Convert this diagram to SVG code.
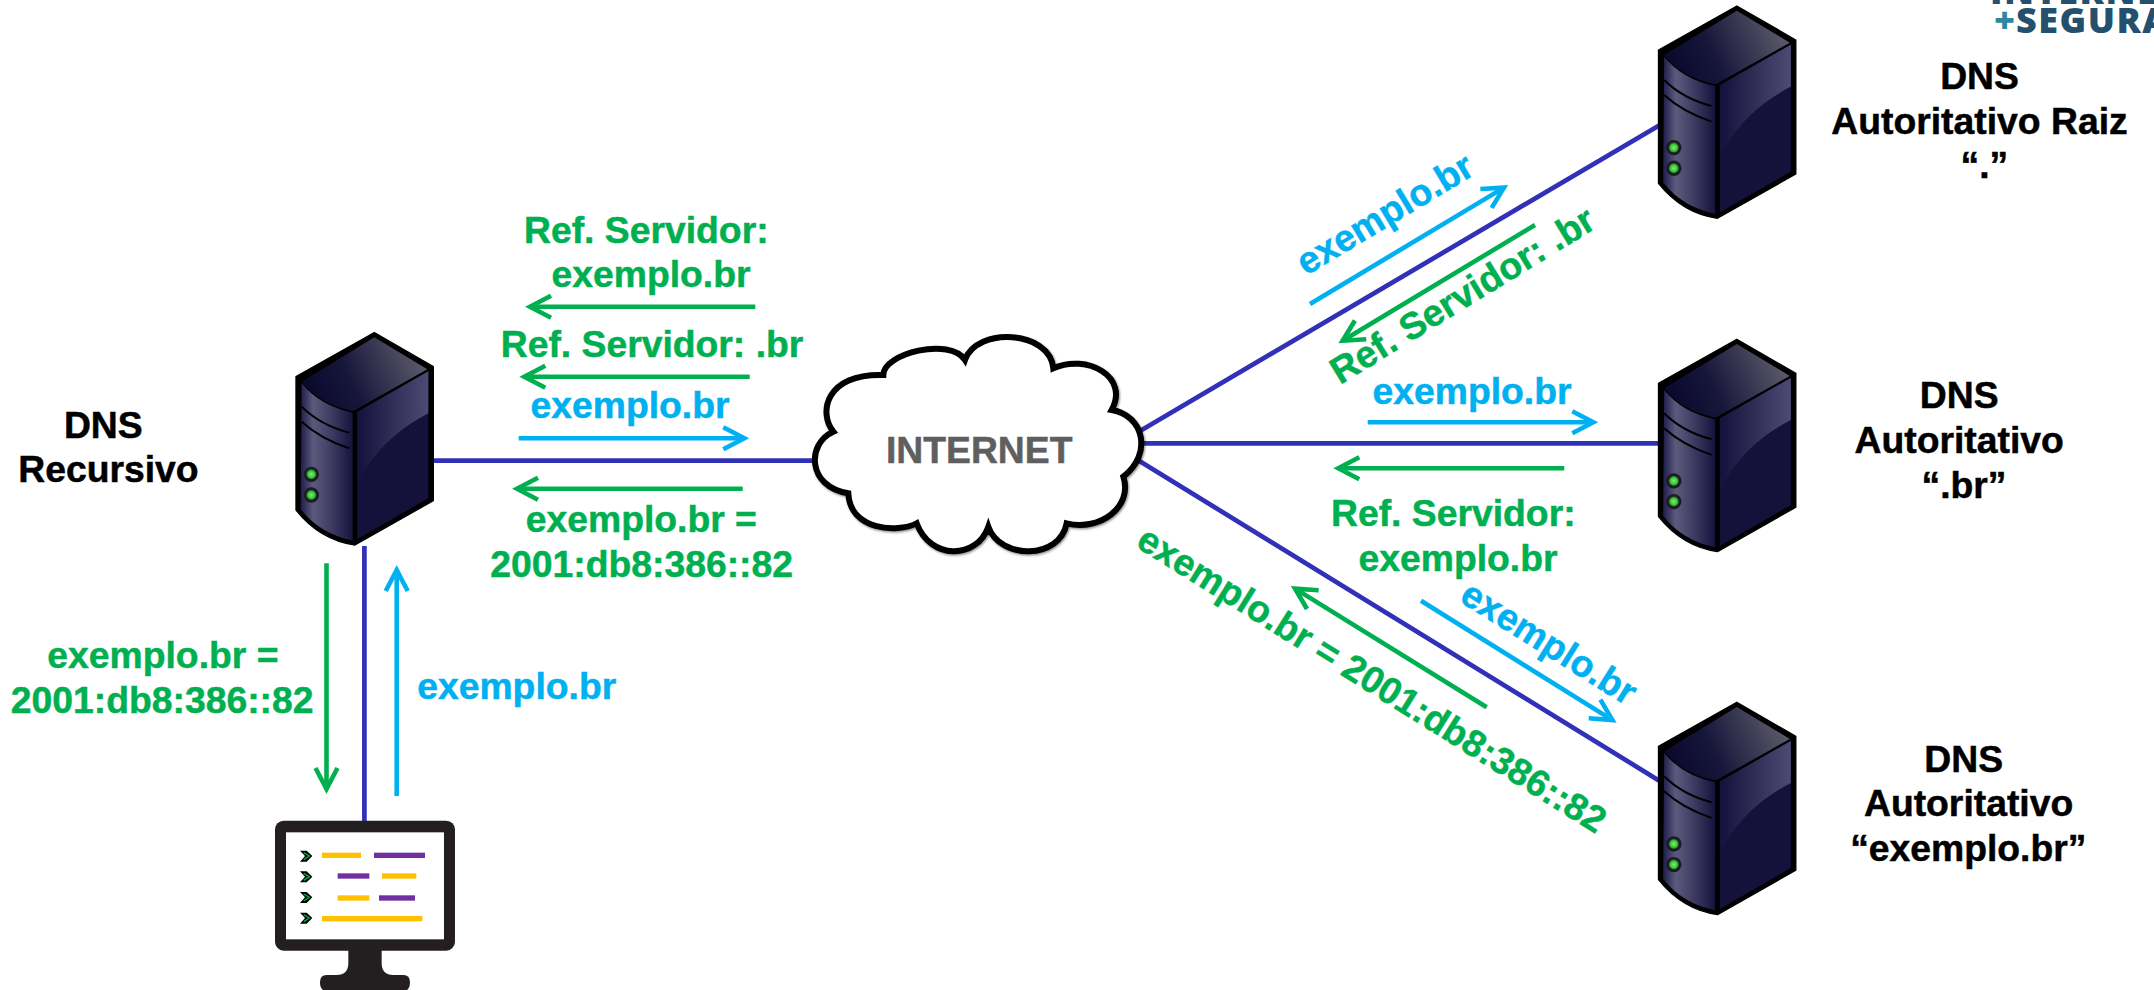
<svg xmlns="http://www.w3.org/2000/svg" width="2154" height="990" viewBox="0 0 2154 990">
<style>
text{font-family:"Liberation Sans",Arial,sans-serif;font-weight:700;font-size:37.3px;text-anchor:middle;stroke-width:.5px}
.k{fill:#000;stroke:#000}.g{fill:#00b050;stroke:#00b050}.b{fill:#00b0f0;stroke:#00b0f0}
.st{text-anchor:start}
.link{stroke:#3030b8;stroke-width:4.7;fill:none}
.ag{stroke:#00b050;stroke-width:4.6;fill:none;marker-end:url(#mg)}
.ab{stroke:#00b0f0;stroke-width:4.6;fill:none;marker-end:url(#mb)}
.y{fill:#ffc000}.p{fill:#7030a0}
</style>
<defs>
<marker id="mg" markerUnits="userSpaceOnUse" markerWidth="40" markerHeight="40" viewBox="-30 -20 40 40" refX="0" refY="0" orient="auto"><path d="M-21,-11 L0,0 L-21,11" fill="none" stroke="#00b050" stroke-width="4.6"/></marker>
<marker id="mb" markerUnits="userSpaceOnUse" markerWidth="40" markerHeight="40" viewBox="-30 -20 40 40" refX="0" refY="0" orient="auto"><path d="M-21,-11 L0,0 L-21,11" fill="none" stroke="#00b0f0" stroke-width="4.6"/></marker>
<linearGradient id="gTop" gradientUnits="userSpaceOnUse" x1="130" y1="260" x2="430" y2="120"><stop offset="0" stop-color="#0b0a2e"/><stop offset=".35" stop-color="#16153a"/><stop offset="1" stop-color="#585768"/></linearGradient>
<linearGradient id="gLeft" gradientUnits="userSpaceOnUse" x1="90" y1="0" x2="250" y2="0"><stop offset="0" stop-color="#1c1a48"/><stop offset=".25" stop-color="#5c5a7c"/><stop offset=".6" stop-color="#3c3a60"/><stop offset="1" stop-color="#14123c"/></linearGradient>
<linearGradient id="gRight" gradientUnits="userSpaceOnUse" x1="270" y1="0" x2="475" y2="0"><stop offset="0" stop-color="#16143e"/><stop offset="1" stop-color="#4d4b72"/></linearGradient>
<radialGradient id="gLed"><stop offset="0" stop-color="#7cf06a"/><stop offset=".65" stop-color="#3fc83c"/><stop offset="1" stop-color="#1d6a22"/></radialGradient>
<filter id="sh" x="-10%" y="-10%" width="120%" height="125%"><feDropShadow dx="3" dy="4" stdDeviation="3" flood-color="#000" flood-opacity=".45"/></filter>
<g id="srv" transform="scale(.3333)">
<path d="M313,68 L490,170 L490,572 L255,705 Q150,690 78,600 L78,200 Z" fill="#000" stroke="#000" stroke-width="4" stroke-linejoin="round"/>
<path d="M313,82 L472,178 L250,303 Q150,285 95,215 Z" fill="url(#gTop)"/>
<path d="M95,220 Q150,288 248,308 L248,692 Q150,672 92,598 Z" fill="url(#gLeft)"/>
<path d="M262,306 L475,184 L475,565 L262,688 Z" fill="#14123a"/>
<path d="M262,306 L475,184 L475,310 Q350,375 285,480 L262,520 Z" fill="url(#gRight)"/>
<path d="M95,290 Q150,345 237,368 M95,335 Q150,385 237,415" fill="none" stroke="#000" stroke-width="6"/>
<circle cx="124" cy="493" r="23" fill="#1c1c24"/><circle cx="124" cy="493" r="15" fill="url(#gLed)"/>
<circle cx="124" cy="555" r="23" fill="#1c1c24"/><circle cx="124" cy="555" r="15" fill="url(#gLed)"/>
</g>
<path id="chev" d="M150,152 L170,152 L187,168 L170,185 L150,185 L165,168 Z"/>
</defs>
<rect width="2154" height="990" fill="#fff"/>

<g id="connectors">
<path class="link" d="M430,460.7 H812"/>
<path class="link" d="M364.4,546 V822"/>
<path class="link" d="M1140,431 L1662.5,123.5"/>
<path class="link" d="M1140,443.3 H1662.5"/>
<path class="link" d="M1139,460.7 L1662.5,782.7"/>
<path class="ag" d="M755.3,306.7 H530"/>
<path class="ag" d="M749.7,376.7 H524.3"/>
<path class="ab" d="M518.7,438.3 H744.3"/>
<path class="ag" d="M742.7,488.7 H517"/>
<path class="ag" d="M326.5,563.3 V789"/>
<path class="ab" d="M396.7,796 V570"/>
<path class="ab" d="M1310,304 L1504,187.6"/>
<path class="ag" d="M1535,225 L1342.6,340.7"/>
<path class="ab" d="M1367.7,422.3 H1593.3"/>
<path class="ag" d="M1564.3,468.3 H1338.3"/>
<path class="ab" d="M1421,600.7 L1612.4,720.1"/>
<path class="ag" d="M1486.7,707.3 L1295,588.6"/>
</g>

<g id="cloud-internet">
<g transform="translate(790,310) scale(.3333)">
<path d="M130,365 C85,310 105,190 280,195 C280,130 480,80 525,150 C560,50 780,60 790,175 C890,130 1020,200 965,300 C1060,315 1090,430 1000,500 C1030,590 930,665 830,640 C810,750 630,750 595,650 C560,750 420,750 380,640 C320,670 180,660 175,550 C50,530 50,400 130,365 Z" fill="#fff" stroke="#000" stroke-width="18" stroke-linejoin="miter" filter="url(#sh)"/>
</g>
<text x="979.2" y="463.3" fill="#5f5f5f" stroke="#5f5f5f">INTERNET</text>
</g>

<g id="dns-recursivo">
<use href="#srv" transform="translate(270,310)"/>
<text class="k" x="103.3" y="438.3">DNS</text>
<text class="k" x="108.4" y="482.3">Recursivo</text>
</g>

<g id="dns-raiz">
<use href="#srv" transform="translate(1632.5,-16.7)"/>
<text class="k" x="1979.5" y="89.3">DNS</text>
<text class="k" x="1979.5" y="134.3">Autoritativo Raiz</text>
<text class="k" x="1984.4" y="178.3">“.”</text>
</g>

<g id="dns-br">
<use href="#srv" transform="translate(1632.5,316.6)"/>
<text class="k" x="1959.2" y="407.7">DNS</text>
<text class="k" x="1959.2" y="452.7">Autoritativo</text>
<text class="k" x="1964" y="497.7">“.br”</text>
</g>

<g id="dns-exemplo">
<use href="#srv" transform="translate(1632.5,679.6)"/>
<text class="k" x="1963.7" y="771.7">DNS</text>
<text class="k" x="1968.6" y="816">Autoritativo</text>
<text class="k" x="1968.3" y="861">“exemplo.br”</text>
</g>

<g id="cliente">
<g transform="translate(250,800) scale(.3333)">
<path d="M295,440 H395 V490 Q395,525 430,525 H460 Q480,525 480,547 Q480,575 455,575 H235 Q210,575 210,547 Q210,525 230,525 H260 Q295,525 295,490 Z" fill="#231f20"/>
<rect x="75" y="62" width="540" height="390" rx="26" fill="#231f20"/>
<rect x="108" y="97" width="474" height="321" fill="#fff"/>
<rect class="y" x="216" y="158" width="117" height="16"/><rect class="p" x="372" y="158" width="153" height="16"/>
<rect class="p" x="263" y="220" width="95" height="16"/><rect class="y" x="396" y="220" width="103" height="16"/>
<rect class="y" x="263" y="286" width="95" height="16"/><rect class="p" x="387" y="286" width="108" height="16"/>
<rect class="y" x="216" y="348" width="301" height="16"/>
<use href="#chev"/><use href="#chev" y="62"/><use href="#chev" y="124"/><use href="#chev" y="186"/>
<path d="M161,158 L178,168 L161,179 M161,220 L178,230 L161,241 M161,282 L178,292 L161,303 M161,344 L178,354 L161,365" fill="none" stroke="#00b050" stroke-width="4"/>
</g>
</g>

<g id="labels">
<text class="g" x="646.3" y="242.7">Ref. Servidor:</text>
<text class="g" x="651" y="287.3">exemplo.br</text>
<text class="g" x="652" y="356.7">Ref. Servidor: .br</text>
<text class="b" x="630" y="418">exemplo.br</text>
<text class="g" x="641.3" y="531.7">exemplo.br =</text>
<text class="g" x="641.7" y="576.7">2001:db8:386::82</text>
<text class="g" x="162.9" y="668.3">exemplo.br =</text>
<text class="g" x="162.2" y="713.3">2001:db8:386::82</text>
<text class="b" x="516.7" y="699.3">exemplo.br</text>
<text class="b" x="1472" y="404">exemplo.br</text>
<text class="g" x="1453.3" y="525.7">Ref. Servidor:</text>
<text class="g" x="1458" y="570.7">exemplo.br</text>
<text class="b st" transform="translate(1306,276) rotate(-31)">exemplo.br</text>
<text class="g st" transform="translate(1340,385) rotate(-31.5)">Ref. Servidor: .br</text>
<text class="b st" transform="translate(1458,600.7) rotate(32)">exemplo.br</text>
<text class="g st" transform="translate(1134.5,546) rotate(32)">exemplo.br = 2001:db8:386::82</text>
</g>

<g id="logo">
<text class="st" style="font-size:36px;font-family:'Open Sans',sans-serif;font-weight:800;letter-spacing:1.5px" fill="#24506e"><tspan x="1990" y="4">INTERNET</tspan><tspan x="1994" y="33" fill="#2e87a0">+</tspan><tspan x="2016" y="33">SEGURA</tspan></text>
</g>
</svg>
